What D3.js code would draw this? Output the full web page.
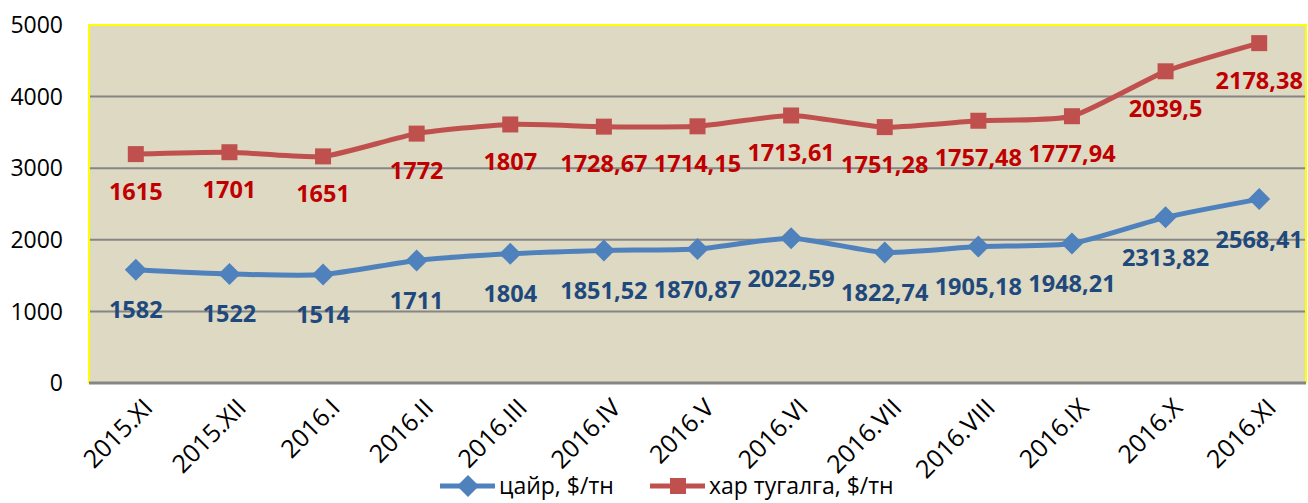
<!DOCTYPE html>
<html lang="mn">
<head>
<meta charset="utf-8">
<title>Цайр ба хар тугалга</title>
<script src="https://d3js.org/d3.v7.min.js"></script>
<style>
  body { margin: 0; background: #fff; }
  svg text { font-family: "Open Sans", "Liberation Sans", sans-serif; }
</style>
</head>
<body>
<div id="chart"></div>
<script>
// data
var months = ["2015.XI", "2015.XII", "2016.I", "2016.II", "2016.III", "2016.IV", "2016.V",
              "2016.VI", "2016.VII", "2016.VIII", "2016.IX", "2016.X", "2016.XI"];
var zinc = [1582, 1522, 1514, 1711, 1804, 1851.52, 1870.87, 2022.59, 1822.74, 1905.18, 1948.21, 2313.82, 2568.41];
var lead = [1615, 1701, 1651, 1772, 1807, 1728.67, 1714.15, 1713.61, 1751.28, 1757.48, 1777.94, 2039.5, 2178.38];
var yTicks = [0, 1000, 2000, 3000, 4000, 5000];
var seriesNames = ["цайр, $/тн", "хар тугалга, $/тн"];

// layout
var W = 1308, H = 503;
var margin = {top: 25, right: 2, bottom: 120, left: 89},
    width = W - margin.left - margin.right,
    height = H - margin.top - margin.bottom;

var svg = d3.select("#chart").append("svg")
    .attr("width", W).attr("height", H);

var g = svg.append("g")
    .attr("transform", "translate(" + margin.left + "," + margin.top + ")");

var x = d3.scaleBand().domain(months).range([0, width]);
var y = d3.scaleLinear().domain([0, 5000]).range([height, 0]);
var cx = function(d) { return x(d) + x.bandwidth() / 2; };

// stacked: lead line sits on top of zinc
var zincPts = months.map(function(m, i) { return {m: m, v: zinc[i], label: zinc[i]}; });
var leadPts = months.map(function(m, i) { return {m: m, v: zinc[i] + lead[i], label: lead[i]}; });

// plot background
g.append("rect")
    .attr("width", width).attr("height", height)
    .attr("fill", "#ddd9c3");

// grid
g.selectAll(".grid").data(yTicks.filter(function(t) { return t > 0 && t < 5000; }))
  .enter().append("line")
    .attr("x1", 0).attr("x2", width)
    .attr("y1", function(d) { return y(d); })
    .attr("y2", function(d) { return y(d); })
    .attr("stroke", "#868686").attr("stroke-width", 2);

// frame: yellow left/top/right, grey bottom axis
g.append("path")
    .attr("d", "M0," + height + "V0H" + width + "V" + height)
    .attr("fill", "none").attr("stroke", "#ffff00").attr("stroke-width", 2);
g.append("line")
    .attr("x1", 0).attr("x2", width).attr("y1", height).attr("y2", height)
    .attr("stroke", "#868686").attr("stroke-width", 3);

// y tick labels
g.selectAll(".ytick").data(yTicks).enter().append("text")
    .attr("x", -26)
    .attr("y", function(d) { return y(d); })
    .attr("dy", "0.36em")
    .attr("text-anchor", "end")
    .attr("font-size", 23)
    .attr("fill", "#000")
    .text(function(d) { return d; });

// x tick labels
g.selectAll(".xtick").data(months).enter().append("text")
    .attr("transform", function(d) { return "translate(" + (cx(d) + 6) + "," + (height + 14) + ") rotate(-45)"; })
    .attr("text-anchor", "end")
    .attr("dy", "0.7em")
    .attr("font-size", 25)
    .attr("fill", "#000")
    .text(function(d) { return d; });

var line = d3.line()
    .x(function(d) { return cx(d.m); })
    .y(function(d) { return y(d.v); })
    .curve(d3.curveCardinal.tension(0.4));

// zinc
g.append("path").datum(zincPts)
    .attr("d", line).attr("fill", "none")
    .attr("stroke", "#4f81bd").attr("stroke-width", 5);
g.selectAll(".zm").data(zincPts).enter().append("path")
    .attr("transform", function(d) { return "translate(" + cx(d.m) + "," + y(d.v) + ")"; })
    .attr("d", "M0,-11L11,0L0,11L-11,0Z")
    .attr("fill", "#4f81bd");

// lead
g.append("path").datum(leadPts)
    .attr("d", line).attr("fill", "none")
    .attr("stroke", "#c0504d").attr("stroke-width", 5);
g.selectAll(".lm").data(leadPts).enter().append("rect")
    .attr("x", function(d) { return cx(d.m) - 8; })
    .attr("y", function(d) { return y(d.v) - 8; })
    .attr("width", 16).attr("height", 16)
    .attr("fill", "#c0504d");

var fmt = function(v) { return String(v).replace(".", ","); };

// data labels
g.selectAll(".zl").data(zincPts).enter().append("text")
    .attr("x", function(d) { return cx(d.m); })
    .attr("y", function(d) { return y(d.v) + 40; })
    .attr("dy", "0.36em")
    .attr("text-anchor", "middle")
    .attr("font-size", 23.5).attr("font-weight", "bold")
    .attr("fill", "#1f497d")
    .text(function(d) { return fmt(d.label); });

g.selectAll(".ll").data(leadPts).enter().append("text")
    .attr("x", function(d) { return cx(d.m); })
    .attr("y", function(d) { return y(d.v) + 37; })
    .attr("dy", "0.36em")
    .attr("text-anchor", "middle")
    .attr("font-size", 23.5).attr("font-weight", "bold")
    .attr("fill", "#c00000")
    .text(function(d) { return fmt(d.label); });

// legend
var legend = svg.append("g").attr("transform", "translate(440,486)");
var lz = legend.append("g");
lz.append("line").attr("x1", 0).attr("x2", 55).attr("stroke", "#4f81bd").attr("stroke-width", 5);
lz.append("path").attr("d", "M28,-11L39,0L28,11L17,0Z").attr("fill", "#4f81bd");
lz.append("text").attr("x", 59).attr("dy", "0.36em").attr("font-size", 23).text(seriesNames[0]);

var ll = legend.append("g").attr("transform", "translate(210,0)");
ll.append("line").attr("x1", 0).attr("x2", 55).attr("stroke", "#c0504d").attr("stroke-width", 5);
ll.append("rect").attr("x", 20).attr("y", -8).attr("width", 16).attr("height", 16).attr("fill", "#c0504d");
ll.append("text").attr("x", 59).attr("dy", "0.36em").attr("font-size", 23).text(seriesNames[1]);
</script>
</body>
</html>
